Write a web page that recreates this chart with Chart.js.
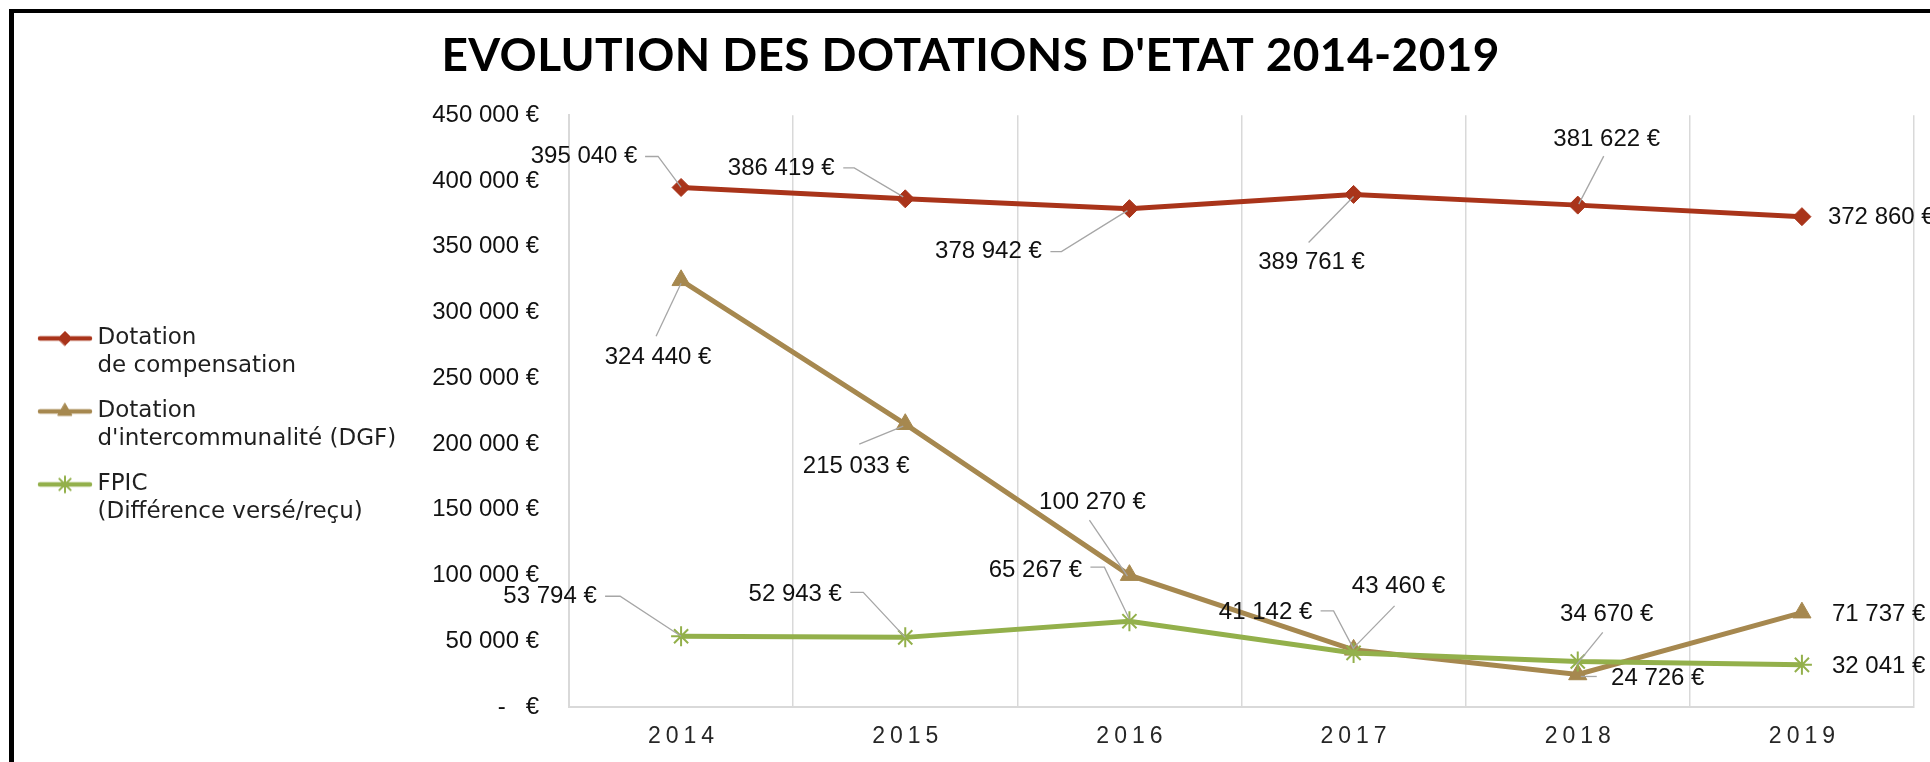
<!DOCTYPE html>
<html>
<head>
<meta charset="utf-8">
<script src="https://cdn.jsdelivr.net/npm/chart.js@4.4.1/dist/chart.umd.min.js"></script>
<style>
html,body{margin:0;padding:0;background:#fff;overflow:hidden}
#wrap{position:absolute;left:0;top:0;width:1930px;height:762px}
#frame{position:absolute;left:9px;top:9px;width:1940px;height:800px;border-left:5px solid #000;border-top:4px solid #000;pointer-events:none}
</style>
</head>
<body>
<div id="wrap"><canvas id="c"></canvas></div>
<div id="frame"></div>
<script>
// ---- data ----
const years = ['2014', '2015', '2016', '2017', '2018', '2019'];
const compensation = [395040, 386419, 378942, 389761, 381622, 372860];
const intercommunalite = [324440, 215033, 100270, 43460, 24726, 71737];
const fpic = [53794, 52943, 65267, 41142, 34670, 32041];
const seriesNames = [
  ['Dotation', 'de compensation'],
  ['Dotation', "d'intercommunalité (DGF)"],
  ['FPIC', '(Différence versé/reçu)']
];
const chartTitle = "EVOLUTION DES DOTATIONS D'ETAT 2014-2019";
const yMin = 0, yMax = 450000, yStep = 50000;

// ---- styles ----
const RED = '#A9341A', TAN = '#A6884F', GREEN = '#93B04B';
const LABEL_FONT = '24px "Liberation Sans", Arial, sans-serif';

// label placement (offsets from each point, in px) – layout only
const labelPlacement = [
  [
    {x: -97, y: -31, leader: [[-36, -31], [-23, -31], [0, 0]]},
    {x: -124, y: -30, leader: [[-62, -31], [-51, -31], [-2, -2]]},
    {x: -141, y: 43, leader: [[-79, 43], [-68, 43], [-2, 2]]},
    {x: -42, y: 68, leader: [[-45, 48], [0, 2]]},
    {x: 29, y: -66, leader: [[26, -49], [1, -1]]},
    {x: 26, y: 1, align: 'left'}
  ],
  [
    {x: -23, y: 77, leader: [[-25, 56], [0, 3]]},
    {x: -49, y: 42, leader: [[-46, 20], [-2, 2]]},
    {x: -37, y: -73, leader: [[-40, -55], [-2, 1]]},
    {x: 45, y: -63, leader: [[41, -44], [0, -2]]},
    {x: 80, y: 4, leader: [[3, 2], [19, 2]]},
    {x: 30, y: 2, align: 'left'}
  ],
  [
    {x: -131, y: -40, leader: [[-76, -40], [-61, -40], [0, 0]]},
    {x: -110, y: -43, leader: [[-55, -45], [-42, -45], [0, 0]]},
    {x: -94, y: -51, leader: [[-39, -54], [-25, -54], [0, -2]]},
    {x: -88, y: -41, leader: [[-33, -42], [-20, -42], [0, -4]]},
    {x: 29, y: -47, leader: [[25, -29], [-1, 3]]},
    {x: 30, y: 2, align: 'left'}
  ]
];

function euro(v) {
  if (v === 0) return '-   €';
  return String(v).replace(/\B(?=(\d{3})+(?!\d))/g, ' ') + ' €';
}

function legendIcon(color, style, radius, bw) {
  const c = document.createElement('canvas');
  c.width = 56; c.height = 26;
  const g = c.getContext('2d');
  g.strokeStyle = color; g.lineWidth = 4.5; g.lineCap = 'round';
  g.beginPath(); g.moveTo(3, 13); g.lineTo(53, 13); g.stroke();
  g.fillStyle = color; g.strokeStyle = color; g.lineWidth = bw;
  Chart.helpers.drawPoint(g, {pointStyle: style, radius: radius, borderWidth: bw}, 28, 13);
  return c;
}

const dataLabels = {
  id: 'dataLabels',
  afterDatasetsDraw(chart) {
    const ctx = chart.ctx;
    chart.data.datasets.forEach((ds, di) => {
      const meta = chart.getDatasetMeta(di);
      meta.data.forEach((pt, i) => {
        const L = labelPlacement[di][i];
        if (L.leader) {
          ctx.save();
          ctx.strokeStyle = '#a6a6a6'; ctx.lineWidth = 1.3;
          ctx.beginPath();
          L.leader.forEach(([dx, dy], k) => {
            if (k) ctx.lineTo(pt.x + dx, pt.y + dy); else ctx.moveTo(pt.x + dx, pt.y + dy);
          });
          ctx.stroke();
          ctx.restore();
        }
        ctx.save();
        ctx.font = LABEL_FONT;
        ctx.fillStyle = '#111';
        ctx.textAlign = L.align || 'center';
        ctx.textBaseline = 'middle';
        ctx.fillText(euro(ds.data[i]), pt.x + L.x, pt.y + L.y);
        ctx.restore();
      });
    });
  }
};

const spacing = {
  id: 'spacing',
  beforeDraw(chart) {
    const xs = chart.scales.x;
    if (xs && !xs._spaced) {
      const orig = xs.drawLabels;
      xs.drawLabels = function (a) {
        const c = this.ctx; c.save();
        c.letterSpacing = '5px'; c.translate(2.5, 0);
        orig.call(this, a); c.restore();
      };
      xs._spaced = true;
    }
    const t = chart.titleBlock;
    if (t && !t._spaced) {
      const o = t.draw;
      t.draw = function () {
        const c = this.ctx; c.save();
        c.font = Chart.helpers.toFont(this.options.font).string;
        const w = c.measureText(chartTitle).width;
        const s = Math.max(-2, (1058 - w) / (chartTitle.length - 1));
        c.letterSpacing = s + 'px'; c.translate(s / 2, 0);
        o.call(this); c.restore();
      };
      t._spaced = true;
    }
  }
};

Chart.defaults.font.family = '"Liberation Sans", Arial, sans-serif';

const icons = [
  legendIcon(RED, 'rectRot', 7, 1),
  legendIcon(TAN, 'triangle', 8, 1),
  legendIcon(GREEN, 'star', 8, 2)
];
const seriesColors = [RED, TAN, GREEN];

new Chart(document.getElementById('c'), {
  type: 'line',
  data: {
    labels: years,
    datasets: [
      {label: seriesNames[0].join(' '), data: compensation, borderColor: RED, backgroundColor: RED,
       borderWidth: 5, pointStyle: 'rectRot', pointRadius: 9, pointBorderWidth: 1,
       pointBackgroundColor: RED, pointBorderColor: RED, tension: 0, order: 2},
      {label: seriesNames[1].join(' '), data: intercommunalite, borderColor: TAN, backgroundColor: TAN,
       borderWidth: 5, pointStyle: 'triangle', pointRadius: 10.5, pointBorderWidth: 1,
       pointBackgroundColor: TAN, pointBorderColor: TAN, tension: 0, order: 1},
      {label: seriesNames[2].join(' '), data: fpic, borderColor: GREEN, backgroundColor: GREEN,
       borderWidth: 5, pointStyle: 'star', pointRadius: 10, pointBorderWidth: 2,
       pointBackgroundColor: GREEN, pointBorderColor: GREEN, tension: 0, order: 0}
    ]
  },
  options: {
    responsive: true,
    maintainAspectRatio: false,
    animation: false,
    events: [],
    layout: {padding: {left: 27, right: 16, top: 0, bottom: 10}},
    plugins: {
      title: {
        display: true, text: chartTitle, color: '#000',
        font: {family: '"Liberation Sans Narrow", "Lato", "Liberation Sans", sans-serif', size: 46, weight: 'bold', lineHeight: 1.2},
        padding: {top: 29, bottom: 31}
      },
      legend: {
        position: 'left', align: 'center', fullSize: false,
        title: {display: true, text: ' ', padding: 0, font: {size: 28, lineHeight: 1.2}},
        labels: {
          usePointStyle: true, pointStyleWidth: 42, padding: 17, color: '#1f1f1f',
          font: {family: '"DejaVu Sans", sans-serif', size: 23, lineHeight: 1.2174},
          generateLabels: () => seriesNames.map((t, k) => ({
            text: t, fillStyle: seriesColors[k], strokeStyle: seriesColors[k], lineWidth: 0,
            pointStyle: icons[k], hidden: false, datasetIndex: k, fontColor: '#1f1f1f'
          }))
        }
      },
      tooltip: {enabled: false}
    },
    scales: {
      x: {
        offset: true,
        grid: {display: true, offset: true, color: '#d9d9d9', lineWidth: 1.5, drawTicks: false},
        border: {display: true, color: '#d9d9d9', width: 2},
        ticks: {color: '#262626', padding: 16, font: {size: 23}},
        afterFit(s) { s.height = 45; }
      },
      y: {
        min: yMin, max: yMax,
        grid: {display: false, drawTicks: false},
        border: {display: true, color: '#d9d9d9', width: 2},
        ticks: {stepSize: yStep, padding: 30, color: '#111', font: {size: 24}, callback: v => euro(v)},
        afterFit(s) {
          const lg = s.chart.legend;
          s.width = 569 - 27 - (lg ? lg.width : 0);
        }
      }
    }
  },
  plugins: [spacing, dataLabels]
});
</script>
</body>
</html>
